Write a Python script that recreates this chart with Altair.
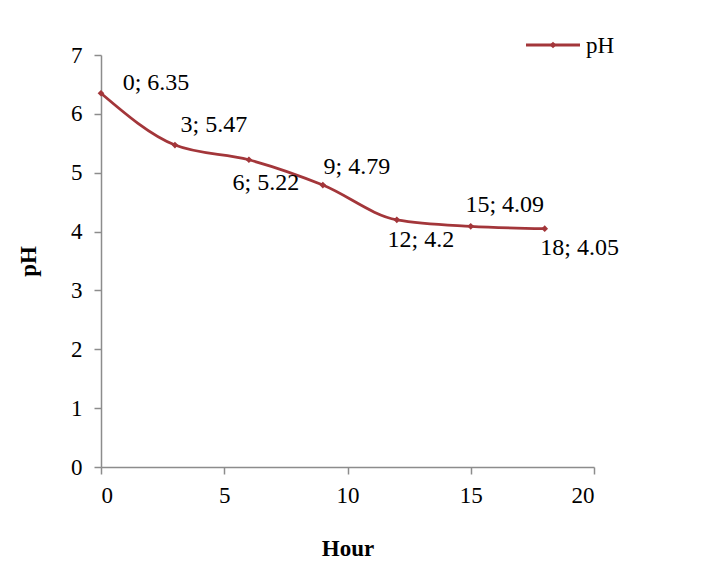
import altair as alt
import pandas as pd

hours = [0, 3, 6, 9, 12, 15, 18]
ph = [6.35, 5.47, 5.22, 4.79, 4.2, 4.09, 4.05]
labels = ["0; 6.35", "3; 5.47", "6; 5.22", "9; 4.79", "12; 4.2", "15; 4.09", "18; 4.05"]
# label offsets (pixels) relative to each point
label_dx = [55, 39, 17, 34, 24, 34, 35]
label_dy = [-10, -20, 23, -18, 20, -21, 19]

df = pd.DataFrame({"Hour": hours, "pH": ph, "label": labels})
COLOR = "#A3363A"
FONT = "Liberation Serif"

x = alt.X("Hour:Q", scale=alt.Scale(domain=[0, 20]),
          axis=alt.Axis(values=[0, 5, 10, 15, 20], title="Hour", grid=False, format="d",
                        titleFontWeight="bold", titlePadding=30))
y = alt.Y("pH:Q", scale=alt.Scale(domain=[0, 7]),
          axis=alt.Axis(values=list(range(8)), title="pH", grid=False, format="d",
                        titleFontWeight="bold", titlePadding=30))

base = alt.Chart(df)
line = base.mark_line(interpolate="monotone", color=COLOR, strokeWidth=2.8).encode(x=x, y=y)
pts = base.mark_point(shape="diamond", filled=True, color=COLOR, size=45, opacity=1).encode(x=x, y=y)

texts = []
for i in range(len(hours)):
    texts.append(
        alt.Chart(df.iloc[[i]]).mark_text(dx=label_dx[i], dy=label_dy[i], fontSize=24,
                                          font=FONT, color="black")
        .encode(x="Hour:Q", y="pH:Q", text="label:N")
    )

leg_line = alt.Chart(pd.DataFrame({"k": [0]})).mark_rule(color=COLOR, strokeWidth=2.8).encode(
    x=alt.value(425), x2=alt.value(479), y=alt.value(-10))
leg_pt = alt.Chart(pd.DataFrame({"k": [0]})).mark_point(shape="diamond", filled=True, color=COLOR,
                                                         size=45, opacity=1).encode(
    x=alt.value(452), y=alt.value(-10))
leg_txt = alt.Chart(pd.DataFrame({"t": ["pH"]})).mark_text(align="left", fontSize=23, font=FONT,
                                                            color="black").encode(
    x=alt.value(485), y=alt.value(-9), text="t:N")

chart = alt.layer(line, pts, *texts, leg_line, leg_pt, leg_txt).properties(
    width=493, height=412,
    autosize=alt.AutoSizeParams(type="none"),
    padding={"left": 93, "top": 47, "right": 100, "bottom": 100},
).configure_view(stroke=None).configure_axis(
    domainColor="#8c8c8c", tickColor="#8c8c8c", domainWidth=1.5, tickWidth=1.5, tickSize=7,
    labelFont=FONT, titleFont=FONT, labelFontSize=23, titleFontSize=23, labelColor="black",
    titleColor="black", labelPadding=12,
).configure_axisX(labelPadding=10).configure_axisY(titleAngle=270)

chart.save("out.html", embed_options={"renderer": "svg", "actions": False})
